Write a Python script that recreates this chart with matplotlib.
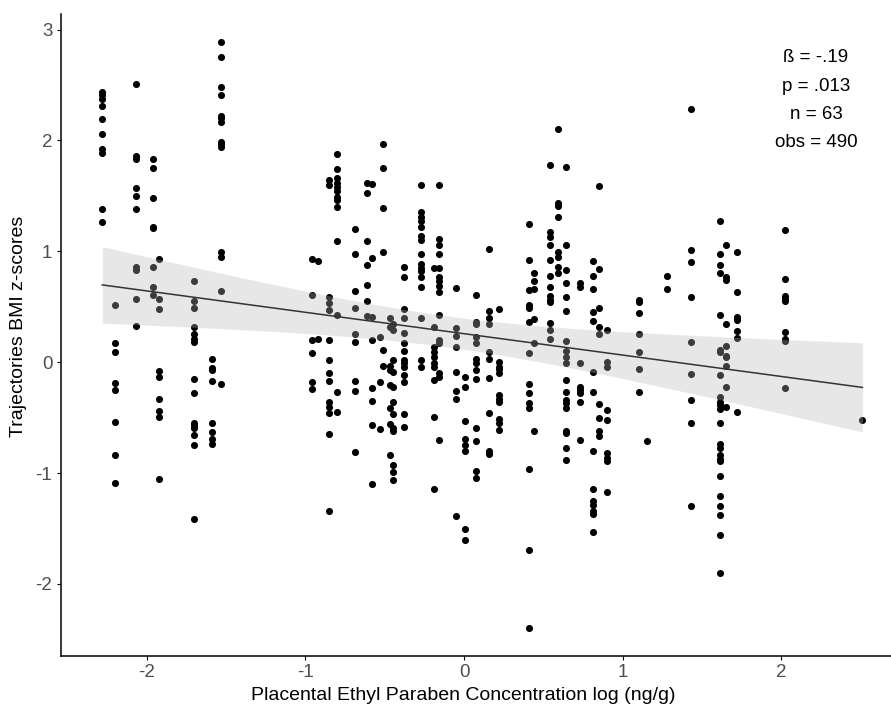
import numpy as np
import matplotlib
matplotlib.use("Agg")
import matplotlib.pyplot as plt

plt.rcParams['font.family'] = ['Liberation Sans', 'DejaVu Sans']
plt.rcParams['axes.unicode_minus'] = False

# x position of each vertical group of observations (one participant each)
group_x = [-2.28, -2.20, -2.07, -1.96, -1.92, -1.70, -1.59, -1.53,
           -0.96, -0.92, -0.85, -0.80, -0.69, -0.61, -0.58, -0.53,
           -0.51, -0.47, -0.45, -0.38, -0.27, -0.19, -0.16, -0.05,
           0.006, 0.076, 0.156, 0.22, 0.41, 0.44, 0.54, 0.59,
           0.64, 0.73, 0.81, 0.85, 0.90, 1.10, 1.15, 1.28,
           1.43, 1.61, 1.65, 1.72, 2.02, 2.51]

# BMI z-score trajectories for each group
group_y = [
    [2.44, 2.41, 2.37, 2.31, 2.19, 2.06, 1.92, 1.89, 1.38, 1.26],
    [0.52, 0.17, 0.09, -0.19, -0.25, -0.54, -0.84, -1.09],
    [2.51, 1.86, 1.83, 1.57, 1.50, 1.38, 0.86, 0.83, 0.57, 0.33],
    [1.83, 1.75, 1.48, 1.22, 1.21, 0.86, 0.68, 0.61],
    [0.93, 0.57, 0.48, -0.08, -0.13, -0.33, -0.44, -0.49, -1.05],
    [0.73, 0.55, 0.49, 0.32, 0.25, 0.21, 0.18, -0.15, -0.28, -0.55, -0.57,
     -0.59, -0.66, -0.75, -1.41],
    [0.03, -0.05, -0.07, -0.17, -0.55, -0.63, -0.69, -0.74],
    [2.89, 2.75, 2.48, 2.41, 2.22, 2.20, 2.17, 1.99, 1.97, 1.94, 0.99, 0.95,
     0.64, -0.20],
    [0.93, 0.61, 0.20, 0.08, -0.18, -0.24],
    [0.91, 0.21],
    [1.64, 1.60, 0.59, 0.53, 0.47, 0.20, 0.02, -0.10, -0.17, -0.36, -0.40,
     -0.46, -0.65, -1.34],
    [1.88, 1.74, 1.66, 1.62, 1.58, 1.54, 1.49, 1.46, 1.40, 1.09, 0.43, -0.27,
     -0.45],
    [1.20, 0.98, 0.64, 0.49, 0.25, 0.18, -0.17, -0.26, -0.81],
    [1.62, 1.53, 1.09, 0.88, 0.70, 0.55, 0.42],
    [1.61, 0.94, 0.41, 0.20, -0.23, -0.35, -0.57, -1.10],
    [0.23, -0.18, -0.60],
    [1.97, 1.75, 1.39, 0.99, 0.11, -0.03],
    [0.40, 0.32, -0.03, -0.07, -0.21, -0.41, -0.56, -0.84],
    [0.34, 0.29, 0.02, -0.09, -0.22, -0.36, -0.47, -0.59, -0.62, -0.93,
     -0.99, -1.06],
    [0.86, 0.77, 0.48, 0.40, 0.26, 0.17, 0.10, 0.02, -0.01, -0.04, -0.12,
     -0.18, -0.47, -0.58],
    [1.60, 1.35, 1.31, 1.27, 1.22, 1.14, 1.10, 0.98, 0.89, 0.85, 0.82, 0.77,
     0.68, 0.40, 0.02, -0.04],
    [0.85, 0.32, 0.14, 0.09, 0.05, -0.01, -0.04, -0.16, -0.49, -1.14],
    [1.60, 1.11, 1.06, 0.98, 0.85, 0.77, 0.73, 0.69, 0.63, 0.43, 0.20, 0.17,
     -0.10, -0.13, -0.70],
    [0.67, 0.31, 0.24, 0.14, -0.09, -0.26, -0.33, -1.39],
    [-0.13, -0.22, -0.53, -0.69, -0.75, -0.80, -1.50, -1.60],
    [0.61, 0.36, 0.34, 0.23, 0.17, 0.03, -0.01, -0.07, -0.15, -0.59, -0.71,
     -0.98, -1.04],
    [1.02, 0.46, 0.40, 0.34, 0.09, 0.03, -0.14, -0.46, -0.80, -0.83],
    [0.48, 0.00, -0.04, -0.06, -0.10, -0.30, -0.33, -0.36, -0.51, -0.55,
     -0.61],
    [1.25, 0.92, 0.65, 0.52, 0.49, 0.36, 0.08, -0.20, -0.28, -0.37, -0.41,
     -0.96, -1.69, -2.40],
    [0.80, 0.73, 0.66, 0.39, 0.17, -0.62],
    [1.78, 1.17, 1.13, 1.06, 0.92, 0.78, 0.68, 0.60, 0.56, 0.54, 0.35, 0.29,
     0.21],
    [2.10, 1.44, 1.41, 1.31, 0.99, 0.95, 0.86, 0.80],
    [1.76, 1.06, 0.83, 0.71, 0.59, 0.46, 0.19, 0.10, 0.05, -0.01, -0.16,
     -0.27, -0.34, -0.37, -0.41, -0.62, -0.64, -0.77, -0.88],
    [0.71, 0.68, -0.01, -0.22, -0.25, -0.28, -0.36, -0.70],
    [0.91, 0.78, 0.66, 0.45, 0.37, -0.09, -0.27, -0.80, -1.14, -1.25, -1.29,
     -1.34, -1.37, -1.53],
    [1.59, 0.84, 0.49, 0.32, 0.25, -0.38, -0.50, -0.62, -0.67],
    [0.29, 0.00, -0.04, -0.43, -0.52, -0.82, -0.86, -0.89, -1.17],
    [0.56, 0.54, 0.44, 0.25, 0.09, -0.06, -0.27],
    [-0.71],
    [0.78, 0.66],
    [2.28, 1.01, 0.90, 0.59, 0.18, -0.11, -0.34, -0.55, -1.30],
    [1.27, 0.98, 0.88, 0.80, 0.43, 0.11, 0.09, -0.12, -0.31, -0.36, -0.39,
     -0.42, -0.55, -0.74, -0.77, -0.84, -0.87, -0.89, -1.03, -1.21, -1.30,
     -1.38, -1.56, -1.90],
    [1.06, 0.77, 0.74, 0.34, 0.15, 0.06, 0.05, -0.03, -0.22, -0.40],
    [0.99, 0.63, 0.41, 0.40, 0.38, 0.28, 0.22, -0.45],
    [1.19, 0.75, 0.60, 0.58, 0.55, 0.27, 0.21, 0.19, -0.23],
    [-0.52],
]

# fitted line and confidence band
fit_intercept = 0.257
fit_slope = -0.193
ci_min_halfwidth = 0.14
ci_center = -0.1
ci_growth = 0.0209

stats_lines = ["ß = -.19", "p = .013", "n = 63", "obs = 490"]

x = np.concatenate([[gx] * len(gy) for gx, gy in zip(group_x, group_y)])
y = np.concatenate(group_y)

fig = plt.figure(figsize=(8.91, 7.08), dpi=100)
ax = fig.add_axes([0.0681, 0.0734, 0.9319, 0.9068])

ax.scatter(x, y, s=26, color='black', linewidths=0, zorder=1)

xs = np.linspace(x.min(), x.max(), 200)
fit = fit_intercept + fit_slope * xs
hw = np.sqrt(ci_min_halfwidth ** 2 + ci_growth * (xs - ci_center) ** 2)
ax.fill_between(xs, fit - hw, fit + hw, color='#b9b9b9', alpha=0.33,
                linewidth=0, zorder=2)
ax.plot(xs, fit, color='#333333', linewidth=1.1, zorder=3)

ax.set_xlim(-2.542, 2.69)
ax.set_ylim(-2.65, 3.14)
ax.set_xticks([-2, -1, 0, 1, 2])
ax.set_yticks([-2, -1, 0, 1, 2, 3])

for side in ['top', 'right']:
    ax.spines[side].set_visible(False)
for side in ['left', 'bottom']:
    ax.spines[side].set_linewidth(1.1)
ax.tick_params(length=3, width=0.8, labelsize=13.5, labelcolor='#4d4d4d',
               pad=3)

ax.set_xlabel("Placental Ethyl Paraben Concentration log (ng/g)", fontsize=14)
ax.set_ylabel("Trajectories BMI z-scores", fontsize=14)
ax.xaxis.set_label_coords(0.485, -0.049)
ax.yaxis.set_label_coords(-0.041, 0.514)

for i, line in enumerate(stats_lines):
    ax.text(0.9096, 0.9315 - i * 0.0441, line, transform=ax.transAxes,
            ha='center', va='center', fontsize=13.5)

fig.savefig("out.png", dpi=100)
